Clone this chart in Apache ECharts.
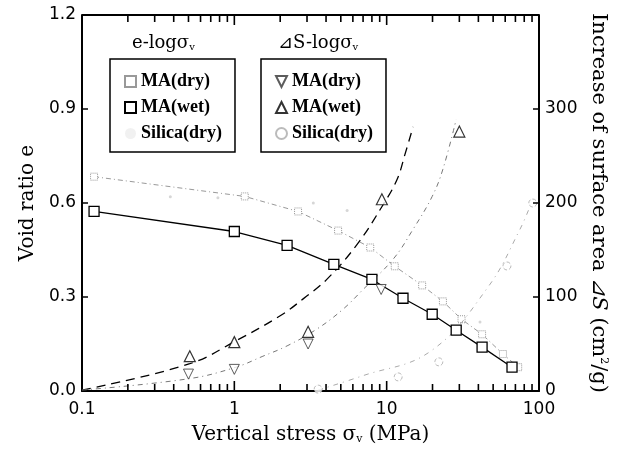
<!DOCTYPE html>
<html><head><meta charset="utf-8">
<script src="https://cdn.jsdelivr.net/npm/echarts@6/dist/echarts.min.js"></script>
<style>html,body{margin:0;padding:0;background:#fff}#c{width:619px;height:450px}</style>
</head><body><div id="c"></div>
<script>
// x tick labels (log axis)
const xTickLabels = ['0.1', '1', '10', '100'];
const minorTicks = [0.2,0.3,0.4,0.5,0.6,0.7,0.8,0.9,2,3,4,5,6,7,8,9,20,30,40,50,60,70,80,90];
const majorTicks = [1, 10];
const yTicks = [0.3, 0.6, 0.9];

// e - log sigma_v  (left axis)
const eMAdry = [[0.12,0.684],[1.17,0.621],[2.62,0.573],[4.8,0.512],[7.8,0.458],[11.3,0.398],[17.1,0.337],[23.4,0.286],[31,0.229],[42.3,0.181],[58,0.118],[73,0.076]];
const eMAwet = [[0.12,0.573],[1.0,0.509],[2.22,0.465],[4.5,0.404],[8.0,0.356],[12.8,0.296],[19.9,0.245],[28.6,0.194],[42.3,0.140],[66.5,0.076]];
const eSilica = [[0.38,0.62],[0.78,0.617],[3.3,0.60],[5.5,0.576],[41,0.22]];

// dS - log sigma_v  (right axis)
const dsMAdry = [[0.5,18],[1.0,23],[3.05,50],[9.2,108]];
const dsMAwet = [[0.51,37],[1.0,52],[3.05,63],[9.3,204],[30,276]];
const dsSilica = [[3.55,2],[11.9,15],[22,31],[61.6,133],[91,200]];

// fitted curves
const fitMAwet = [[0.1,1],[0.51,29],[1.04,54],[2.0,80],[2.83,98],[4.06,119],[6.4,156],[9.3,196],[11.7,225],[13.2,252],[14.9,281]];
const fitMAdry = [[0.1,1],[0.5,13],[1.01,25],[1.54,37],[2.22,48],[3.49,66],[5.17,87],[7.0,108],[11.0,140],[14.9,172],[19.9,207],[23.4,236],[28.6,289]];
const fitSilica = [[3.55,1],[6.9,16],[19.3,42],[46,110],[75,172],[91,204]];

const legendNames = {
  e_MAdry: 'MA(dry)', e_MAwet: 'MA(wet)', e_Silica: 'Silica(dry)',
  ds_MAdry: 'MA(dry)', ds_MAwet: 'MA(wet)', ds_Silica: 'Silica(dry)'
};

const SERIF = "'DejaVu Serif', 'Liberation Serif', serif";
const SANS = "'DejaVu Sans', 'Liberation Sans', sans-serif";
const invTri = 'path://M0,0 L10,0 L5,10 Z';

// tick lengths expressed in axis units (style only)
const Y_MIN = 0, Y_MAX = 1.2, X_MIN = 0.1, X_MAX = 100;
const minorLen = 0.022, majorLen = 0.032, yTickFactor = 1.095;

function xTickSegments(vals, len) {
  const out = [];
  vals.forEach(v => {
    out.push([v, Y_MIN], [v, Y_MIN + len], [v, '-']);
    out.push([v, Y_MAX], [v, Y_MAX - len], [v, '-']);
  });
  return out;
}
function yTickSegments(vals) {
  const out = [];
  vals.forEach(v => {
    out.push([X_MIN, v], [X_MIN * yTickFactor, v], ['-', v]);
    out.push([X_MAX, v], [X_MAX / yTickFactor, v], ['-', v]);
  });
  return out;
}

const chart = echarts.init(document.getElementById('c'), null, {renderer: 'canvas'});

const legendCommon = {
  orient: 'vertical', top: 59, selectedMode: false,
  borderColor: '#000', borderWidth: 1.5, padding: [13, 13, 9, 14],
  itemGap: 7, itemWidth: 11, itemHeight: 11,
  formatter: n => legendNames[n],
  textStyle: {fontFamily: "'Liberation Serif', serif", fontWeight: 'bold', fontSize: 18, color: '#000', lineHeight: 19}
};

const titleRich = {
  a: {fontFamily: SERIF, fontSize: 18, fontWeight: 'normal', color: '#000', verticalAlign: 'bottom'},
  s: {fontFamily: SERIF, fontSize: 10, fontWeight: 'normal', color: '#000', verticalAlign: 'bottom'}
};

const tickLine = {type: 'line', yAxisIndex: 0, silent: true, symbol: 'none', connectNulls: false,
  lineStyle: {color: '#000', width: 1.6}, z: 20};

chart.setOption({
  animation: false,
  backgroundColor: '#fff',
  grid: {left: 82, right: 80, top: 15, bottom: 58},
  title: [
    {text: '{a|e-logσ}{s|v}', left: 132, top: 34, padding: 0, textStyle: {fontWeight: 'normal', rich: titleRich}},
    {text: '{a|⊿S-logσ}{s|v}', left: 278, top: 34, padding: 0, textStyle: {fontWeight: 'normal', rich: titleRich}}
  ],
  legend: [
    Object.assign({}, legendCommon, {left: 110, data: [
      {name: 'e_MAdry', icon: 'rect'}, {name: 'e_MAwet', icon: 'rect'},
      {name: 'e_Silica', icon: 'circle', itemStyle: {color: '#eee'}}]}),
    Object.assign({}, legendCommon, {left: 261, data: [
      {name: 'ds_MAdry', icon: invTri}, {name: 'ds_MAwet', icon: 'triangle'}, {name: 'ds_Silica', icon: 'circle'}]})
  ],
  xAxis: {
    type: 'log', logBase: 10, min: X_MIN, max: X_MAX, splitLine: {show: false},
    axisLine: {lineStyle: {color: '#000', width: 2}},
    axisTick: {show: false},
    axisLabel: {color: '#000', fontFamily: SANS, fontSize: 17, margin: 10,
      formatter: v => xTickLabels[Math.round(Math.log10(v)) + 1]},
    name: '{a|Vertical stress σ}{s|v}{a| (MPa)}', nameLocation: 'middle', nameGap: 34,
    nameTextStyle: {rich: {
      a: {fontFamily: SERIF, fontSize: 20, color: '#000', verticalAlign: 'bottom'},
      s: {fontFamily: SERIF, fontSize: 11, color: '#000', verticalAlign: 'bottom'}}}
  },
  yAxis: [
    {
      type: 'value', min: Y_MIN, max: Y_MAX, interval: 0.3, position: 'left',
      axisLine: {show: true, lineStyle: {color: '#000', width: 2}},
      axisTick: {show: false},
      axisLabel: {color: '#000', fontFamily: SANS, fontSize: 17, margin: 6, formatter: v => v.toFixed(1)},
      splitLine: {show: false},
      name: 'Void ratio e', nameLocation: 'middle', nameRotate: 90, nameGap: 40,
      nameTextStyle: {fontFamily: SERIF, fontSize: 20, color: '#000'}
    },
    {
      type: 'value', min: 0, max: 400, interval: 100, position: 'right',
      axisLine: {show: true, lineStyle: {color: '#000', width: 2}},
      axisTick: {show: false},
      axisLabel: {color: '#000', fontFamily: SANS, fontSize: 17, margin: 6, showMaxLabel: false},
      splitLine: {show: false},
      name: '{a|Increase of surface area }{i|⊿S}{a| (cm}{p|2}{a|/g)}',
      nameLocation: 'middle', nameRotate: -90, nameGap: 48,
      nameTextStyle: {rich: {
        a: {fontFamily: SERIF, fontSize: 21, color: '#000', verticalAlign: 'bottom'},
        i: {fontFamily: SERIF, fontSize: 21, fontStyle: 'italic', color: '#000', verticalAlign: 'bottom'},
        p: {fontFamily: SERIF, fontSize: 11, color: '#000', verticalAlign: 'top'}}}
    }
  ],
  series: [
    {name: 'e_MAdry', type: 'line', yAxisIndex: 0, data: eMAdry, symbol: 'rect', symbolSize: 7,
     itemStyle: {color: '#fff', borderColor: '#999', borderWidth: 1, borderType: 'dotted'},
     lineStyle: {color: '#999', width: 1, type: [5, 3, 1, 3]}, z: 3},
    {name: 'e_MAwet', type: 'line', yAxisIndex: 0, data: eMAwet, symbol: 'rect', symbolSize: 10,
     itemStyle: {color: '#fff', borderColor: '#000', borderWidth: 1.3},
     lineStyle: {color: '#000', width: 1.3}, z: 5},
    {name: 'e_Silica', type: 'scatter', yAxisIndex: 0, data: eSilica, symbol: 'circle', symbolSize: 3,
     itemStyle: {color: '#ccc'}, z: 2},
    {name: 'ds_MAdry', type: 'scatter', yAxisIndex: 1, data: dsMAdry, symbol: invTri, symbolSize: 10,
     itemStyle: {color: '#fff', borderColor: '#333', borderWidth: 1}, z: 6},
    {name: 'ds_MAwet', type: 'scatter', yAxisIndex: 1, data: dsMAwet, symbol: 'triangle', symbolSize: 11,
     itemStyle: {color: '#fff', borderColor: '#000', borderWidth: 1.2}, z: 6},
    {name: 'ds_Silica', type: 'scatter', yAxisIndex: 1, data: dsSilica, symbol: 'circle', symbolSize: 8,
     itemStyle: {color: '#fff', borderColor: '#aaa', borderWidth: 1, borderType: 'dashed'}, z: 6},
    {name: 'fit_MAwet', type: 'line', yAxisIndex: 1, data: fitMAwet, symbol: 'none', smooth: 0.4,
     lineStyle: {color: '#000', width: 1.3, type: [9, 6]}, z: 4},
    {name: 'fit_MAdry', type: 'line', yAxisIndex: 1, data: fitMAdry, symbol: 'none', smooth: 0.4,
     lineStyle: {color: '#777', width: 1, type: [5, 4, 1, 4]}, z: 4},
    {name: 'fit_Silica', type: 'line', yAxisIndex: 1, data: fitSilica, symbol: 'none', smooth: 0.4,
     lineStyle: {color: '#aaa', width: 1, type: [5, 5, 1, 5]}, z: 4},
    Object.assign({}, tickLine, {name: 'xMinorTicks', data: xTickSegments(minorTicks, minorLen),
      markLine: {silent: true, symbol: 'none', label: {show: false},
        lineStyle: {color: '#000', width: 2, type: 'solid'}, data: [{yAxis: Y_MAX}]}}),
    Object.assign({}, tickLine, {name: 'xMajorTicks', data: xTickSegments(majorTicks, majorLen)}),
    Object.assign({}, tickLine, {name: 'yTicks', data: yTickSegments(yTicks)})
  ]
});
</script>
</body></html>
